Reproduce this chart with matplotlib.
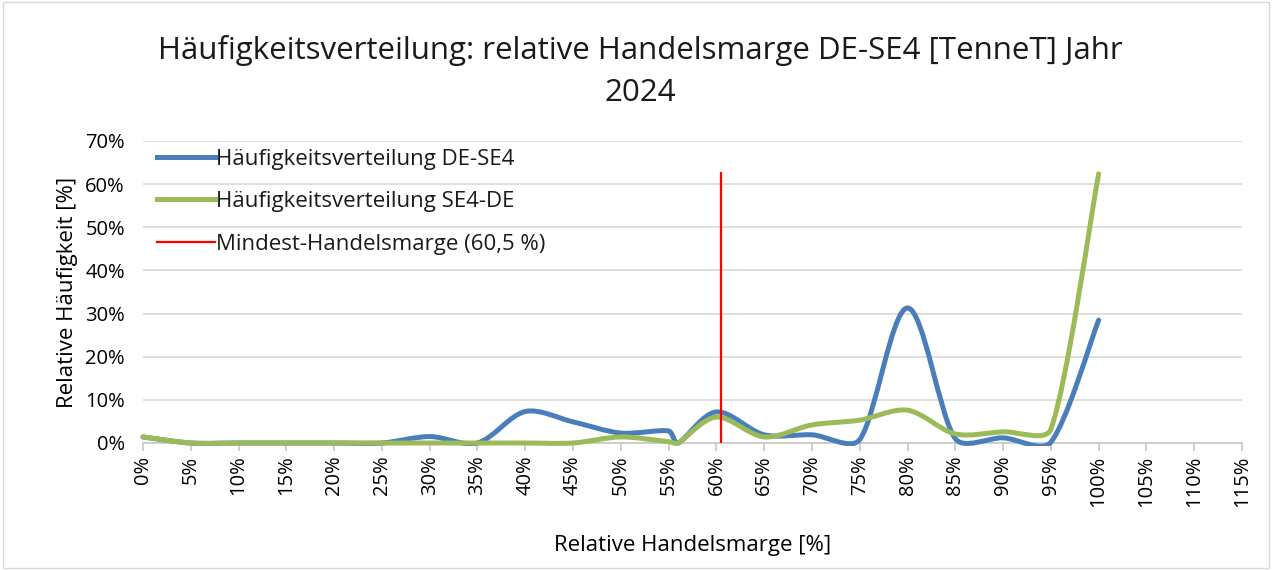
import numpy as np
import matplotlib
matplotlib.use("Agg")
import matplotlib.pyplot as plt
from matplotlib.path import Path
from matplotlib.patches import PathPatch, Rectangle
from matplotlib.lines import Line2D
from matplotlib.ticker import MultipleLocator, FuncFormatter

# Daten
marge = [0, 5, 10, 15, 20, 25, 30, 35, 40, 45, 50, 55, 56, 60, 65, 70, 75, 80, 85, 90, 95, 100]
haeuf_de_se4 = [1.4, 0, 0, 0, 0, 0, 1.5, 0, 7.3, 4.9, 2.3, 2.8, 0, 7.2, 1.9, 1.9, 0.8, 31.3, 1.0, 1.2, 0.2, 28.5]
haeuf_se4_de = [1.4, 0, 0, 0, 0, 0, 0, 0, 0, 0, 1.4, 0.3, 0, 6.0, 1.4, 4.2, 5.3, 7.6, 2.1, 2.6, 3.2, 62.4]
mindest_x = [60.5, 60.5]
mindest_y = [0, 62.5]

labels = ["Häufigkeitsverteilung DE-SE4",
          "Häufigkeitsverteilung SE4-DE",
          "Mindest-Handelsmarge (60,5 %)"]

BLAU = "#4a7ebb"
GRUEN = "#9bbb59"
ROT = "#ff0000"

plt.rcParams['font.family'] = ['Open Sans', 'DejaVu Sans']
plt.rcParams['text.color'] = '#1a1a1a'

# Plotbereich in Pixeln
X0, X1, Y0, Y1 = 143, 1242, 443, 141
SX = (X1 - X0) / 115.0
SY = (Y0 - Y1) / 70.0


def smooth_path(x, y, k=0.3):
    # geglaettete Linie (Bezier), Henkel = min(Catmull-Rom, k * Segmentlaenge)
    P = np.column_stack([np.asarray(x, float) * SX, np.asarray(y, float) * SY])
    n = len(P)
    D = np.zeros_like(P)
    for i in range(n):
        D[i] = P[min(i + 1, n - 1)] - P[max(i - 1, 0)]
    verts = [P[0]]
    codes = [Path.MOVETO]
    for i in range(n - 1):
        L = np.hypot(*(P[i + 1] - P[i]))
        h = []
        for j in (i, i + 1):
            cr = D[j] / 6.0
            lc = np.hypot(*cr)
            h.append(cr * min(1.0, k * L / lc) if lc > 0 else cr)
        verts += [P[i] + h[0], P[i + 1] - h[1], P[i + 1]]
        codes += [Path.CURVE4] * 3
    verts = np.array(verts) / [SX, SY]
    return Path(verts, codes)


fig = plt.figure(figsize=(12.72, 5.7), dpi=100)
ax = fig.add_axes([X0 / 1272, 1 - Y0 / 570, (X1 - X0) / 1272, (Y0 - Y1) / 570])

clip = Rectangle((-2, -0.6), 120, 75, transform=ax.transData)
for y, c in [(haeuf_de_se4, BLAU), (haeuf_se4_de, GRUEN)]:
    p = PathPatch(smooth_path(marge, y), fill=False, ec=c, lw=3.6,
                  capstyle='round', joinstyle='round', zorder=3)
    ax.add_patch(p)
    p.set_clip_path(clip)

ax.plot(mindest_x, mindest_y, color=ROT, lw=1.6, zorder=4)

ax.set_xlim(0, 115)
ax.set_ylim(0, 70)
ax.xaxis.set_major_locator(MultipleLocator(5))
ax.yaxis.set_major_locator(MultipleLocator(10))
fmt = FuncFormatter(lambda v, p: f"{v:.0f}%")
ax.xaxis.set_major_formatter(fmt)
ax.yaxis.set_major_formatter(fmt)
ax.grid(axis='y', color='#d9d9d9', lw=1.2)
ax.set_axisbelow(True)
for s in ['top', 'right', 'left']:
    ax.spines[s].set_visible(False)
ax.spines['bottom'].set_color('#c8c8c8')
ax.spines['bottom'].set_linewidth(1.2)
ax.tick_params(axis='x', direction='out', length=6, color='#c8c8c8', width=1.2,
               labelsize=14.5, labelrotation=90, pad=3)
ax.tick_params(axis='y', length=0, labelsize=14.5, pad=13)

ax.set_xlabel("Relative Handelsmarge [%]", fontsize=16, labelpad=20)
ax.set_ylabel("Relative Häufigkeit [%]", fontsize=16, labelpad=5)

handles = [Line2D([], [], color=BLAU, lw=3.6),
           Line2D([], [], color=GRUEN, lw=3.6),
           Line2D([], [], color=ROT, lw=1.6)]
ax.legend(handles, labels, loc='upper left', bbox_to_anchor=(0.011, 0.982), frameon=False,
          fontsize=16, handlelength=2.6, handletextpad=0.05, labelspacing=0.97,
          borderpad=0, borderaxespad=0.1)

fig.text(0.503, 1 - 71.5 / 570,
         "Häufigkeitsverteilung: relative Handelsmarge DE-SE4 [TenneT] Jahr\n2024",
         ha='center', va='center', fontsize=22.5, linespacing=1.55)

fig.patches.append(Rectangle((0.002, 0.004), 0.996, 0.992, transform=fig.transFigure,
                             fill=False, ec='#d9d9d9', lw=1))

fig.savefig("out.png", dpi=100)
